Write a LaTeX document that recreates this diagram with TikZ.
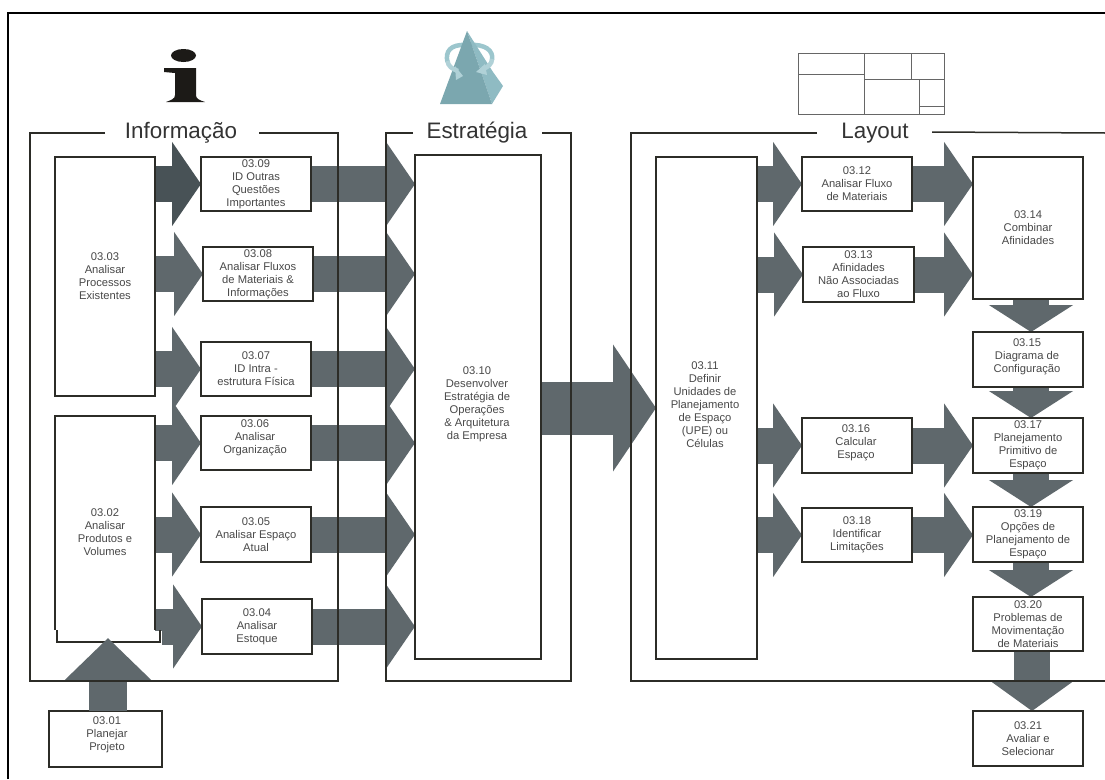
\documentclass[tikz,border=0pt]{standalone}
\usepackage{fontspec}
\setmainfont{Liberation Sans}
\usetikzlibrary{arrows.meta,backgrounds}
\definecolor{seta}{HTML}{5F686C}
\definecolor{setaescura}{HTML}{485256}
\definecolor{traco}{HTML}{2C2C27}
\definecolor{letra}{HTML}{484848}
\definecolor{titulo}{HTML}{333333}
\definecolor{preto}{HTML}{1C1A17}
\definecolor{faceA}{HTML}{7BA7AF}
\definecolor{faceB}{HTML}{8FBBC3}
\definecolor{fita}{HTML}{9CC6CD}
\tikzset{
  etapa/.style={draw=traco, line width=2pt, inner sep=0pt, outer sep=0pt, align=center,
    text=letra, font=\fontsize{11.2pt}{13pt}\selectfont},
  rotulo/.style={inner sep=0pt, outer sep=0pt, align=center, text=letra,
    font=\fontsize{11.2pt}{13pt}\selectfont},
  grupo/.style={draw=traco, line width=1.5pt},
  nometitulo/.style={inner sep=0pt, text=titulo, font=\fontsize{22.4pt}{26pt}\selectfont},
  fluxo/.style={draw=seta, line width=36pt, -{Triangle[length=29pt 0 0,width=83pt 0 0]}},
  fluxoescuro/.style={fluxo, draw=setaescura},
  fluxobaixo/.style={draw=seta, line width=36pt, -{Triangle[length=27pt 0 0,width=83pt 0 0]}},
  fluxogrande/.style={draw=seta, line width=53pt, -{Triangle[length=43pt 0 0,width=125pt 0 0]}},
  planta/.style={draw=black!60, line width=0.9pt},
}
\begin{document}
\begin{tikzpicture}[x=1pt,y=-1pt]
\useasboundingbox (0,0) rectangle (1105,779);
\draw[line width=1.6pt] (8,779) -- (8,13) -- (1105,13);

% icons above the three groups
\fill[preto] (183.5,55.5) ellipse (12.5 and 6.5);
\fill[preto] (164,68) -- (196,68) -- (196,95) .. controls (196,99) and (199,100) .. (205,102)
  -- (166,102) .. controls (171,100) and (175,99) .. (175,95) -- (175,73) -- (164,72) -- cycle;

\draw[fita, line width=4.5pt] (466,45) .. controls (450,44) and (445,52) .. (447.5,62); % behind the faces
\draw[fita, line width=4.5pt] (470,45) .. controls (484,44) and (494,50) .. (492,60);
\fill[faceB] (467,31) -- (493,72) -- (503,86) -- (492,104) -- cycle;
\fill[faceA] (467,31) -- (440,104) -- (492,104) -- cycle;
\draw[fita!80!white, line width=4.5pt] (447.5,61) .. controls (448,66) and (452,69) .. (458,71);
\fill[fita!80!white] (455,66) -- (463,76) -- (456,80) -- cycle;
\draw[fita!80!white, line width=4.5pt] (492,59) .. controls (492,64) and (488,67) .. (483,69);
\fill[fita!80!white] (485,64) -- (476,72) -- (487,75) -- cycle;

\draw[planta] (798,53) rectangle (944,114);
\draw[planta] (864,53) -- (864,114);
\draw[planta] (798,74) -- (864,74);
\draw[planta] (864,79) -- (944,79);
\draw[planta] (911,53) -- (911,79);
\draw[planta] (919,79) -- (919,114);
\draw[planta] (919,106) -- (944,106);

% group titles
\node[nometitulo] (tinfo) at (181,133) {Informação};
\node[nometitulo] (testr) at (477,133) {Estratégia};
\node[nometitulo] (tlay) at (875,133) {Layout};

% first column
\node[etapa, minimum width=100pt, minimum height=239pt] (e0303) at (105,276.5) {03.03\\Analisar\\Processos\\Existentes};
\node[rotulo, minimum width=100pt, minimum height=232pt] (e0302) at (105,532) {03.02\\Analisar\\Produtos e\\Volumes};
\draw[etapa] (55,630) -- (55,415.5) -- (155,415.5) -- (155,630);
\draw[etapa] (57,630) -- (57,642) -- (160,642) -- (160,630);
\node[etapa, minimum width=113pt, minimum height=56pt] (e0301) at (105.5,739) {};
\node[rotulo] (t0301) at (107,734.5) {03.01\\Planejar\\Projeto};

% second column
\node[etapa, minimum width=110pt, minimum height=54pt] (e0309) at (256,184) {03.09\\ID Outras\\Questões\\Importantes};
\node[etapa, minimum width=110pt, minimum height=54pt] (e0308) at (258,274) {03.08\\Analisar Fluxos\\de Materiais \&\\Informações};
\node[etapa, minimum width=110pt, minimum height=54pt] (e0307) at (256,369) {03.07\\ID Intra -\\estrutura Física};
\node[etapa, minimum width=110pt, minimum height=54pt] (e0306) at (256,443) {};
\node[rotulo] (t0306) at (255,438) {03.06\\Analisar\\Organização};
\node[etapa, minimum width=110pt, minimum height=55pt] (e0305) at (256,534.5) {03.05\\Analisar Espaço\\Atual};
\node[etapa, minimum width=110pt, minimum height=55pt] (e0304) at (257,626.5) {03.04\\Analisar\\Estoque};

% strategy
\node[etapa, minimum width=126pt, minimum height=504pt] (e0310) at (478,407) {};
\node[rotulo] (t0310) at (477,404) {03.10\\Desenvolver\\Estratégia de\\Operações\\\& Arquitetura\\da Empresa};

% layout
\node[etapa, minimum width=101pt, minimum height=502pt] (e0311) at (706.5,408) {};
\node[rotulo] (t0311) at (705,405) {03.11\\Definir\\Unidades de\\Planejamento\\de Espaço\\(UPE) ou\\Células};
\node[etapa, minimum width=110pt, minimum height=54pt] (e0312) at (857,184) {03.12\\Analisar Fluxo\\de Materiais};
\node[etapa, minimum width=111pt, minimum height=55pt] (e0313) at (858.5,274.5) {03.13\\Afinidades\\Não Associadas\\ao Fluxo};
\node[etapa, minimum width=110pt, minimum height=55pt] (e0316) at (857,445.5) {};
\node[rotulo] (t0316) at (856,443) {03.16\\Calcular\\Espaço};
\node[etapa, minimum width=110pt, minimum height=54pt] (e0318) at (857,535) {03.18\\Identificar\\Limitações};
\node[etapa, minimum width=110pt, minimum height=142pt] (e0314) at (1028,228) {03.14\\Combinar\\Afinidades};
\node[etapa, minimum width=110pt, minimum height=55pt] (e0315) at (1028,359.5) {};
\node[rotulo] (t0315) at (1027,357) {03.15\\Diagrama de\\Configuração};
\node[etapa, minimum width=110pt, minimum height=55pt] (e0317) at (1028,445.5) {03.17\\Planejamento\\Primitivo de\\Espaço};
\node[etapa, minimum width=110pt, minimum height=55pt] (e0319) at (1028,534.5) {03.19\\Opções de\\Planejamento de\\Espaço};
\node[etapa, minimum width=110pt, minimum height=54pt] (e0320) at (1028,624) {03.20\\Problemas de\\Movimentação\\de Materiais};
\node[etapa, minimum width=110pt, minimum height=55pt] (e0321) at (1028,738.5) {03.21\\Avaliar e\\Selecionar};

\begin{scope}[on background layer] % block arrows go under the boxes
\draw[fluxoescuro] (e0303.east |- e0309.west) -- (e0309.west);
\draw[fluxo] (e0303.east |- e0308.west) -- (e0308.west);
\draw[fluxo] (e0303.east |- e0307.west) -- (e0307.west);
\draw[fluxo] (e0302.east |- e0306.west) -- (e0306.west);
\draw[fluxo] (e0302.east |- e0305.west) -- (e0305.west);
\draw[fluxo] (e0302.east |- e0304.west) -- (e0304.west);

\draw[fluxo] (e0309.east) -- (e0309.east -| e0310.west);
\draw[fluxo] (e0308.east) -- (e0308.east -| e0310.west);
\draw[fluxo] (e0307.east) -- (e0307.east -| e0310.west);
\draw[fluxo] (e0306.east) -- (e0306.east -| e0310.west);
\draw[fluxo] (e0305.east) -- (e0305.east -| e0310.west);
\draw[fluxo] (e0304.east) -- (e0304.east -| e0310.west);

\draw[fluxogrande] (e0310.east |- e0311.west) -- (e0311.west);

\draw[fluxo] (e0311.east |- e0312.west) -- (e0312.west);
\draw[fluxo] (e0311.east |- e0313.west) -- (e0313.west);
\draw[fluxo] (e0311.east |- e0316.west) -- (e0316.west);
\draw[fluxo] (e0311.east |- e0318.west) -- (e0318.west);

\draw[fluxo] (e0312.east) -- (e0312.east -| e0314.west);
\draw[fluxo] (e0313.east) -- (e0313.east -| e0314.west);
\draw[fluxo] (e0316.east) -- (e0317.west);
\draw[fluxo] (e0318.east) -- (e0318.east -| e0319.west);

\coordinate (c0314) at (1031,299);
\draw[fluxobaixo] (c0314) -- (c0314 |- e0315.north);
\draw[fluxobaixo] (c0314 |- e0315.south) -- (c0314 |- e0317.north);
\draw[fluxobaixo] (c0314 |- e0317.south) -- (c0314 |- e0319.north);
\draw[fluxobaixo] (c0314 |- e0319.south) -- (c0314 |- e0320.north);
\coordinate (c0320) at (1032,651);
\draw[draw=seta, line width=36pt, -{Triangle[length=29pt 0 0,width=79pt 0 0]}] (c0320) -- (c0320 |- e0321.north);

\fill[white] (54,631) rectangle (162,680); % gap under 03.02
\end{scope}

% arrow from the project box, over the edge of 03.02
\coordinate (p0302) at (108,638);
\draw[draw=seta, line width=38pt, -{Triangle[length=43pt 0 0,width=86pt 0 0]}] (e0301.north -| p0302) -- (p0302);

% group frames with the gap for the title
\draw[grupo] (105,133) -- (30,133) -- (30,681) -- (338,681) -- (338,133) -- (259,133);
\draw[grupo] (413,133) -- (386,133) -- (386,681) -- (571,681) -- (571,133) -- (542,133);
\draw[grupo] (817,133) -- (631,133) -- (631,681) -- (1105,681);
\draw[grupo] (932,132) -- (1105,133);
\end{tikzpicture}
\end{document}
